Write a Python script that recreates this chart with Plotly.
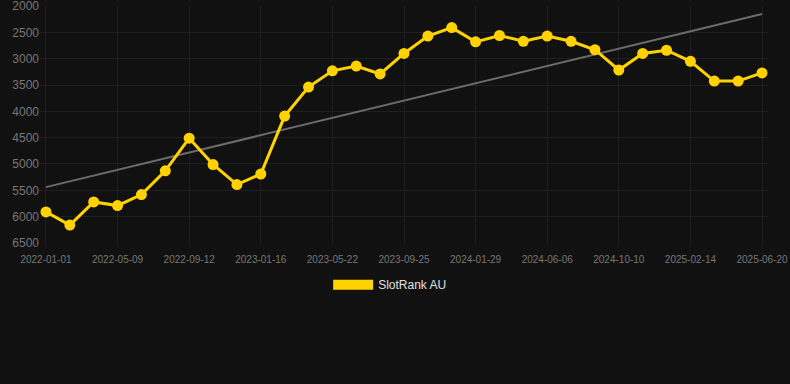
import numpy as np
import plotly.graph_objects as go

dates = [
    "2022-01-01", "2022-02-12", "2022-03-26", "2022-05-09", "2022-06-20", "2022-08-01",
    "2022-09-12", "2022-10-24", "2022-12-05", "2023-01-16", "2023-02-27", "2023-04-10",
    "2023-05-22", "2023-07-03", "2023-08-14", "2023-09-25", "2023-11-06", "2023-12-18",
    "2024-01-29", "2024-03-11", "2024-04-24", "2024-06-06", "2024-07-18", "2024-08-29",
    "2024-10-10", "2024-11-21", "2025-01-02", "2025-02-14", "2025-03-28", "2025-05-09",
    "2025-06-20",
]
ranks = [
    5910, 6160, 5720, 5790, 5580, 5130, 4510, 5010, 5390, 5190,
    4090, 3540, 3230, 3140, 3290, 2900, 2570, 2410, 2680, 2560,
    2670, 2570, 2670, 2830, 3215, 2900, 2840, 3050, 3425, 3425,
    3270,
]
tick_labels = dates[::3]
y_ticks = [2000, 2500, 3000, 3500, 4000, 4500, 5000, 5500, 6000, 6500]
series_name = "SlotRank AU"

# linear trend of the series
idx = np.arange(len(ranks))
slope, intercept = np.polyfit(idx, ranks, 1)
trend_x = [dates[0], dates[-1]]
trend_y = [intercept, intercept + slope * (len(ranks) - 1)]

yellow = "#FFD200"
fig = go.Figure()
fig.add_trace(go.Scatter(
    x=trend_x, y=trend_y, mode="lines",
    line=dict(color="#6b6b6b", width=2), showlegend=False, hoverinfo="skip",
))
fig.add_trace(go.Scatter(
    x=dates, y=ranks, mode="lines+markers", name=series_name,
    line=dict(color=yellow, width=3),
    marker=dict(color=yellow, size=11),
    showlegend=False,
))
fig.add_trace(go.Scatter(
    x=[None], y=[None], mode="lines", name=series_name,
    line=dict(color=yellow, width=12), showlegend=True,
))

n = len(dates)
fig.update_layout(
    width=790, height=384,
    paper_bgcolor="#111111", plot_bgcolor="#111111",
    margin=dict(l=40, r=22, t=6, b=141),
    showlegend=True,
    legend=dict(
        orientation="h", x=0.481, xanchor="center", y=-0.115, yanchor="top",
        font=dict(color="#e0e0e0", size=12, family="Arial, Liberation Sans, sans-serif"),
        bgcolor="rgba(0,0,0,0)", itemwidth=40,
    ),
    font=dict(family="Arial, Liberation Sans, sans-serif"),
)
fig.update_xaxes(
    type="category", categoryorder="array", categoryarray=dates,
    range=[-0.25, n - 1 + 0.25], automargin=False,
    tickmode="array", tickvals=tick_labels, ticktext=tick_labels,
    tickfont=dict(color="#777777", size=10), ticklabeloverflow="allow",
    showgrid=True, gridcolor="#1f1f1f", gridwidth=1,
    zeroline=False, showline=False, ticks="", ticklabelstandoff=9,
)
fig.update_yaxes(
    range=[6500.5, 1999.5], tickmode="array", automargin=False,
    tickvals=y_ticks, ticklabeloverflow="allow",
    tickfont=dict(color="#777777", size=12),
    showgrid=True, gridcolor="#1f1f1f", gridwidth=1,
    zeroline=False, showline=False, ticks="",
)
fig.write_html("out.html")
